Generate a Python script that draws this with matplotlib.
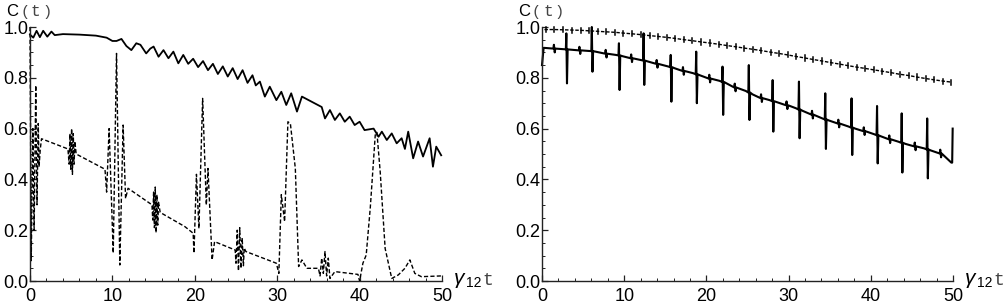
import matplotlib
matplotlib.use("Agg")
import matplotlib.pyplot as plt
from matplotlib.ticker import MultipleLocator

# ---------------- data ----------------
# Left panel, solid curve
left_solid_t = [0.0, 0.4, 0.8, 1.2, 1.6, 2.1, 2.6, 3.0, 4.0, 6.0, 8.0, 9.3, 10.0, 10.5, 11.1,
                11.7, 12.3, 12.9, 13.4, 14.1, 14.6, 15.0, 15.6, 16.2, 16.8, 17.4, 18.0, 18.6,
                19.2, 19.8, 20.4, 21.0, 21.6, 22.2, 22.8, 23.4, 24.0, 24.6, 25.2, 25.8, 26.4,
                27.0, 27.4, 27.9, 28.5, 29.1, 29.9, 30.5, 31.1, 31.7, 32.4, 33.0, 35.4,
                35.8, 36.4, 37.0, 37.6, 38.2, 38.8, 39.4, 40.0, 40.6, 41.7, 42.3, 42.7, 43.3,
                43.9, 44.5, 45.1, 45.5, 45.9, 46.5, 47.1, 47.7, 48.5, 48.9, 49.3, 49.9]
left_solid_c = [0.970, 0.958, 0.985, 0.960, 0.985, 0.962, 0.982, 0.968, 0.972, 0.970, 0.966, 0.958,
                0.945, 0.945, 0.953,
                0.925, 0.909, 0.936, 0.930, 0.896, 0.915, 0.923, 0.883, 0.909, 0.877, 0.903, 0.857, 0.890,
                0.855, 0.875, 0.842, 0.866, 0.830, 0.855, 0.815, 0.845, 0.805, 0.838, 0.795, 0.830, 0.780,
                0.810, 0.770, 0.785, 0.726, 0.765, 0.712, 0.745, 0.693, 0.739, 0.667, 0.726, 0.685,
                0.640, 0.673, 0.634, 0.660, 0.627, 0.647, 0.614, 0.627, 0.594, 0.600, 0.568, 0.588, 0.555,
                0.581, 0.542, 0.562, 0.520, 0.588, 0.483, 0.549, 0.490, 0.562, 0.450, 0.529, 0.495]

# Left panel, dashed curve
left_dash_t = [0.0, 0.15, 0.35, 0.5, 0.7, 0.85, 1.0, 1.1, 1.25, 1.4, 4.6,
               4.75, 4.85, 4.95, 5.05, 5.15, 5.25, 5.35, 5.45, 5.6, 9.1,
               9.3, 9.6, 10.1, 10.5, 10.9, 11.3, 11.6, 11.9, 14.8,
               14.9, 15.0, 15.1, 15.2, 15.3, 15.4, 15.5, 15.6, 15.8, 18.8,
               19.8, 19.9, 20.2, 20.5, 20.95, 21.4, 21.6, 22.1, 22.4, 24.9,
               25.0, 25.15, 25.3, 25.45, 25.6, 25.75, 25.9, 26.0, 26.2, 29.9,
               30.2, 30.5, 30.9, 31.3, 31.6, 32.2, 32.6, 33.0, 33.6, 35.0,
               35.2, 35.4, 35.6, 35.8, 36.0, 36.2, 36.4, 37.0, 39.8,
               40.0, 40.4, 40.8, 41.3, 41.9, 42.1, 42.5, 43.1, 43.9, 44.7,
               45.5, 46.1, 46.7, 47.5, 49.9]
left_dash_c = [1.0, 0.08, 0.60, 0.20, 0.77, 0.30, 0.62, 0.45, 0.52, 0.56, 0.52,
               0.46, 0.58, 0.44, 0.60, 0.42, 0.58, 0.46, 0.55, 0.50, 0.44,
               0.35, 0.60, 0.11, 0.896, 0.063, 0.614, 0.325, 0.365, 0.30,
               0.24, 0.35, 0.21, 0.37, 0.19, 0.34, 0.22, 0.31, 0.27, 0.214,
               0.188, 0.11, 0.42, 0.207, 0.719, 0.299, 0.443, 0.083, 0.155, 0.122,
               0.07, 0.20, 0.04, 0.21, 0.05, 0.17, 0.06, 0.13, 0.116, 0.07,
               0.03, 0.34, 0.234, 0.627, 0.62, 0.443, 0.057, 0.083, 0.05, 0.05,
               0.02, 0.09, 0.03, 0.116, 0.02, 0.09, 0.01, 0.037, 0.026,
               0.0, 0.07, 0.102, 0.29, 0.575, 0.585, 0.43, 0.128, 0.01, 0.024,
               0.05, 0.083, 0.03, 0.017, 0.02]

# Right panel, upper (dashed) curve: centre of each small tick
right_up_t = [0.3, 0.5, 1.5, 2.6, 3.6, 4.7, 5.7, 6.8, 7.8, 8.9, 9.9, 11.0, 12.0, 13.1, 14.1, 15.2,
              16.2, 17.3, 18.3, 19.4, 20.4, 21.5, 22.5, 23.6, 24.6, 25.7, 26.7, 27.8, 28.8,
              29.9, 30.9, 32.0, 33.0, 34.1, 35.1, 36.2, 37.2, 38.3, 39.3, 40.4, 41.4, 42.5,
              43.5, 44.6, 45.6, 46.7, 47.7, 48.8, 49.8]
right_up_c = [0.990, 0.990, 0.990, 0.989, 0.988, 0.987, 0.985, 0.983, 0.981, 0.979, 0.976, 0.973,
              0.970, 0.966, 0.963, 0.959, 0.955, 0.950, 0.946, 0.941, 0.937, 0.932, 0.927, 0.922,
              0.917, 0.912, 0.907, 0.901, 0.896, 0.890, 0.884, 0.878, 0.872, 0.866, 0.860, 0.854,
              0.848, 0.842, 0.837, 0.831, 0.826, 0.820, 0.814, 0.809, 0.803, 0.797, 0.792, 0.787,
              0.783]
right_up_tick = 0.010

# Right panel, lower (solid) curve: smooth trend points
right_lo_t = [0.0, 0.2, 2.6, 3.4, 5.7, 6.5, 9.0, 9.8, 12.0, 12.8, 15.3, 16.1, 18.4, 19.2,
              21.6, 22.4, 24.8, 25.6, 27.7, 28.5, 30.9, 31.7, 34.1, 34.9, 37.3,
              38.1, 40.4, 41.2, 43.4, 44.2, 46.5, 47.3, 49.8]
right_lo_c = [0.850, 0.918, 0.913, 0.911, 0.906, 0.903, 0.890, 0.885, 0.870, 0.865, 0.845, 0.838,
              0.818, 0.810, 0.788, 0.779, 0.748, 0.735, 0.712, 0.705, 0.680, 0.670, 0.640, 0.632,
              0.608, 0.600, 0.578, 0.570, 0.548, 0.540, 0.522, 0.514, 0.466]
# big spikes: time, level of the curve there, top, bottom
spike_t = [3.0, 6.1, 9.4, 12.4, 15.7, 18.8, 22.0, 25.2, 28.1, 31.3, 34.5, 37.7, 40.8, 43.8, 46.9, 50.0]
spike_base = [0.912, 0.905, 0.888, 0.868, 0.842, 0.814, 0.784, 0.742, 0.708, 0.675, 0.636, 0.604,
              0.574, 0.544, 0.518, 0.466]
spike_top = [0.975, 1.000, 0.936, 0.975, 0.890, 0.903, 0.844, 0.850, 0.791, 0.785, 0.739, 0.719,
             0.689, 0.660, 0.640, 0.600]
spike_bot = [0.778, 0.824, 0.752, 0.772, 0.706, 0.700, 0.654, 0.634, 0.588, 0.562, 0.520, 0.496,
             0.463, 0.427, 0.404, 0.463]
# small bumps between spikes: time, level, top, bottom
bump_t = [1.5, 4.6, 7.8, 10.9, 14.0, 17.2, 20.4, 23.5, 26.7, 29.8, 32.9, 36.1, 39.2, 42.3, 45.4, 48.5]
bump_base = [0.915, 0.908, 0.895, 0.877, 0.855, 0.827, 0.797, 0.762, 0.720, 0.692, 0.655, 0.620,
             0.590, 0.558, 0.530, 0.502]
bump_top = [0.930, 0.922, 0.910, 0.892, 0.870, 0.842, 0.812, 0.777, 0.735, 0.707, 0.670, 0.635,
            0.605, 0.573, 0.545, 0.517]
bump_bot = [0.900, 0.894, 0.880, 0.862, 0.840, 0.812, 0.782, 0.747, 0.705, 0.677, 0.640, 0.605,
            0.575, 0.543, 0.515, 0.487]

x_ticks = [0, 10, 20, 30, 40, 50]
y_ticks = [0.0, 0.2, 0.4, 0.6, 0.8, 1.0]
y_tick_labels = ["0.0", "0.2", "0.4", "0.6", "0.8", "1.0"]

# ---------------- figure ----------------
W, H = 1005, 303
fig = plt.figure(figsize=(W / 100, H / 100), dpi=100)
fig.patch.set_facecolor("white")

SANS = "Liberation Sans"
MONO = "Liberation Mono"


def style_axes(ax):
    ax.set_xlim(0, 50)
    ax.set_ylim(0, 1.0)
    for s in ("top", "right"):
        ax.spines[s].set_visible(False)
    for s in ("left", "bottom"):
        ax.spines[s].set_linewidth(1.0)
        ax.spines[s].set_color("#222222")
    ax.set_xticks(x_ticks)
    ax.set_xticklabels([str(v) for v in x_ticks])
    ax.set_yticks(y_ticks)
    ax.set_yticklabels(y_tick_labels)
    ax.xaxis.set_minor_locator(MultipleLocator(2))
    ax.yaxis.set_minor_locator(MultipleLocator(0.05))
    ax.tick_params(which="major", direction="in", length=4, width=0.9, color="#222222",
                   labelsize=13)
    ax.tick_params(which="minor", direction="in", length=2.2, width=0.7, color="#222222")
    ax.tick_params(axis="y", pad=1)
    ax.tick_params(axis="x", pad=5)
    for lab in ax.get_xticklabels() + ax.get_yticklabels():
        lab.set_fontfamily(SANS)
    ax.patch.set_alpha(0)


def axis_labels(ax_left_px, ax_right_px):
    # "C(t)" at top-left, "γ12 t" at right end of x-axis
    fig.text((ax_left_px - 24) / W, 1 - 16 / H, "C", fontsize=12, family=SANS,
             ha="left", va="baseline")
    fig.text((ax_left_px - 10) / W, 1 - 16 / H, "(", fontsize=11, family=MONO,
             color="#444444", ha="left", va="baseline")
    fig.text((ax_left_px + 1) / W, 1 - 16 / H, "t", fontsize=11.5, family=MONO,
             color="#444444", ha="left", va="baseline")
    fig.text((ax_left_px + 12) / W, 1 - 16 / H, ")", fontsize=11, family=MONO,
             color="#444444", ha="left", va="baseline")
    fig.text((ax_right_px + 12) / W, 1 - 284 / H, "γ", fontsize=15, family=SANS,
             style="italic", ha="left", va="baseline")
    fig.text((ax_right_px + 24) / W, 1 - 287 / H, "12", fontsize=10, family=SANS,
             ha="left", va="baseline")
    fig.text((ax_right_px + 40) / W, 1 - 285 / H, "t", fontsize=13, family=MONO,
             color="#444444", ha="left", va="baseline")


# Left panel
axL = fig.add_axes([30 / W, (H - 281) / H, 412 / W, 254 / H])
style_axes(axL)
axL.plot(left_solid_t, left_solid_c, color="black", lw=1.3, solid_joinstyle="round", clip_on=False)
axL.plot(left_dash_t, left_dash_c, color="black", lw=1.0, dashes=(3.0, 1.6), clip_on=False)
axis_labels(30, 442)

# Right panel
axR = fig.add_axes([542 / W, (H - 281) / H, 411 / W, 254 / H])
style_axes(axR)

# upper curve: dashed line through the tick centres, with small vertical ticks
axR.plot(right_up_t, right_up_c, color="black", lw=1.0, dashes=(2.5, 1.2), clip_on=False)
for t, c in zip(right_up_t[1:], right_up_c[1:]):
    axR.plot([t, t], [c - right_up_tick, c + right_up_tick], color="black", lw=1.1, clip_on=False)

# lower curve: trend points + spikes + bumps merged by time
pts = list(zip(right_lo_t, right_lo_c))
for t, c, a, b in zip(spike_t, spike_base, spike_top, spike_bot):
    pts += [(t - 0.1, c), (t - 0.04, a), (t + 0.04, b), (t + 0.12, c)]
for t, c, a, b in zip(bump_t, bump_base, bump_top, bump_bot):
    pts += [(t - 0.12, c), (t - 0.05, a), (t + 0.05, b), (t + 0.12, c)]
pts = [p for p in pts if p[0] <= 50.0]
pts.sort(key=lambda p: p[0])
axR.plot([p[0] for p in pts], [p[1] for p in pts], color="black", lw=1.5,
         solid_joinstyle="round", clip_on=False)
axis_labels(542, 953)

fig.savefig("out.png", dpi=100, facecolor="white")
